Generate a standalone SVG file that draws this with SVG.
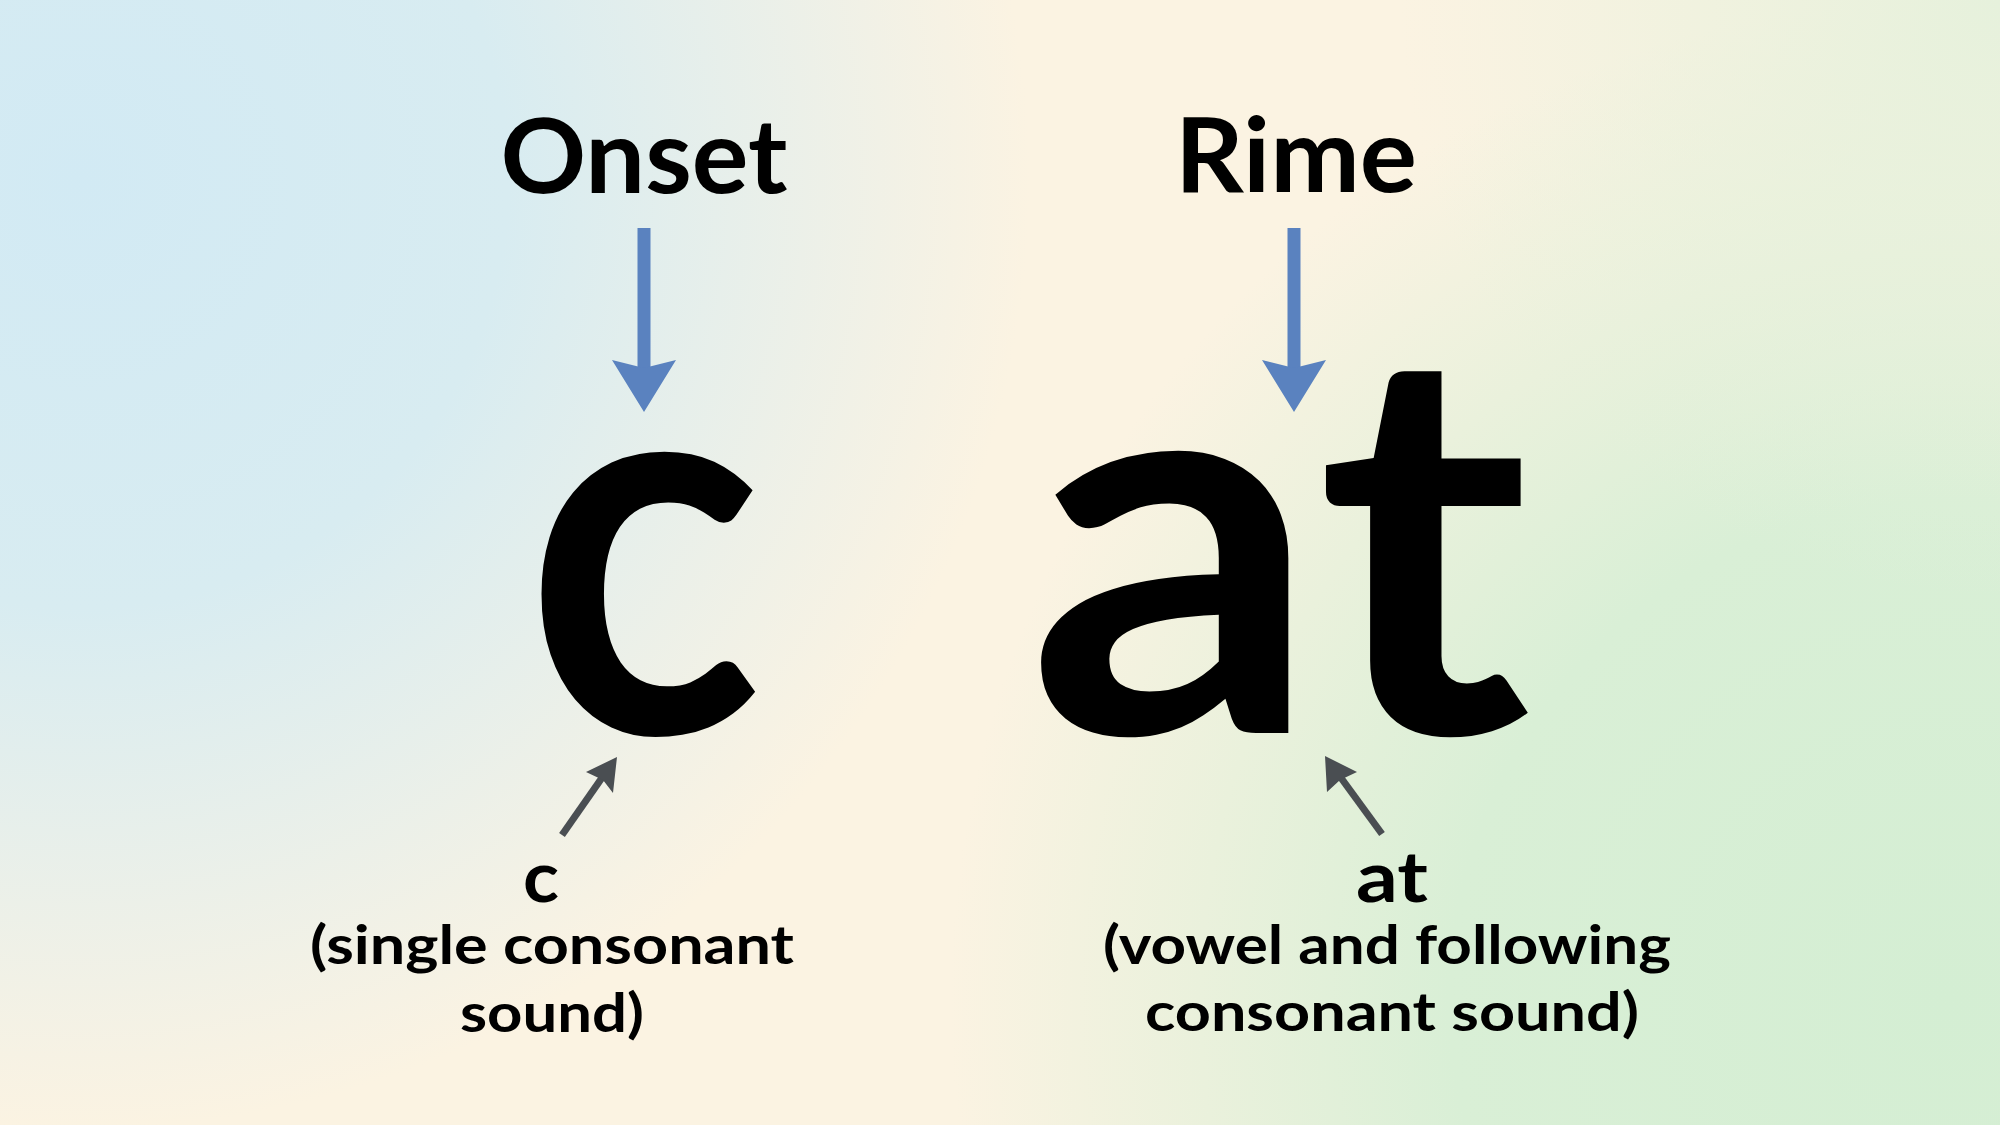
<svg xmlns="http://www.w3.org/2000/svg" width="2000" height="1125" viewBox="0 0 2000 1125">
  <defs>
    <radialGradient id="gBlue" cx="80" cy="180" r="950" gradientUnits="userSpaceOnUse">
      <stop offset="0" stop-color="#d2eaf4"/>
      <stop offset="0.45" stop-color="#d8ecf1"/>
      <stop offset="1" stop-color="#d8ecf1" stop-opacity="0"/>
    </radialGradient>
    <radialGradient id="gGreen" cx="1950" cy="1000" r="1000" gradientUnits="userSpaceOnUse">
      <stop offset="0" stop-color="#d4eed3"/>
      <stop offset="0.5" stop-color="#d9efd6"/>
      <stop offset="1" stop-color="#d9efd6" stop-opacity="0"/>
    </radialGradient>
    <radialGradient id="gTR" cx="2000" cy="0" r="600" gradientUnits="userSpaceOnUse">
      <stop offset="0" stop-color="#e6f1dc"/>
      <stop offset="1" stop-color="#e6f1dc" stop-opacity="0"/>
    </radialGradient>
    <style>
      .t { font-family: "Lato", "Noto Sans", "Liberation Sans", sans-serif; font-weight: 700; fill: #000; text-anchor: middle; }
      .head { font-size: 104px; }
      .big { font-size: 540px; }
      .lab { font-size: 70px; }
      .desc { font-size: 54px; }
      .blue { fill: #5a82bf; }
      .gray { stroke: #4a4e52; stroke-width: 7; fill: none; stroke-linecap: butt; }
      .grayhead { fill: #4a4e52; }
    </style>
  </defs>

  <rect width="2000" height="1125" fill="#fbf3e2"/>
  <rect width="2000" height="1125" fill="url(#gBlue)"/>
  <rect width="2000" height="1125" fill="url(#gGreen)"/>
  <rect width="2000" height="1125" fill="url(#gTR)"/>

  <g id="onset-title">
    <text class="t head" x="644" y="193" textLength="287" lengthAdjust="spacingAndGlyphs">Onset</text>
  </g>
  <g id="rime-title">
    <text class="t head" x="1296" y="192" textLength="242" lengthAdjust="spacingAndGlyphs">Rime</text>
  </g>

  <g id="big-c">
    <text class="t big" x="644" y="733" textLength="238" lengthAdjust="spacingAndGlyphs">c</text>
  </g>
  <g id="big-at">
    <text class="t big" x="1279" y="733" textLength="504" lengthAdjust="spacingAndGlyphs">at</text>
  </g>

  <g id="onset-label">
    <text class="t lab" x="541" y="902" textLength="36" lengthAdjust="spacingAndGlyphs">c</text>
    <text class="t desc" x="552" y="964" textLength="484" lengthAdjust="spacingAndGlyphs">(single consonant</text>
    <text class="t desc" x="552" y="1032" textLength="184" lengthAdjust="spacingAndGlyphs">sound)</text>
  </g>
  <g id="rime-label">
    <text class="t lab" x="1392" y="902" textLength="72" lengthAdjust="spacingAndGlyphs">at</text>
    <text class="t desc" x="1387" y="964" textLength="568" lengthAdjust="spacingAndGlyphs">(vowel and following</text>
    <text class="t desc" x="1392" y="1031" textLength="494" lengthAdjust="spacingAndGlyphs">consonant sound)</text>
  </g>

  <g id="connectors">
    <rect class="blue" x="637.5" y="228" width="13" height="140"/>
    <polygon class="blue" points="612,360 644,368 676,360 644,412"/>
    <rect class="blue" x="1287.5" y="228" width="13" height="140"/>
    <polygon class="blue" points="1262,360 1294,368 1326,360 1294,412"/>
    <line class="gray" x1="562" y1="835" x2="606" y2="772"/>
    <polygon class="grayhead" points="617,757 613,793 603,780 586,772"/>
    <line class="gray" x1="1382" y1="834" x2="1336" y2="771"/>
    <polygon class="grayhead" points="1325,756 1357,772 1340,780 1327,792"/>
  </g>
</svg>
